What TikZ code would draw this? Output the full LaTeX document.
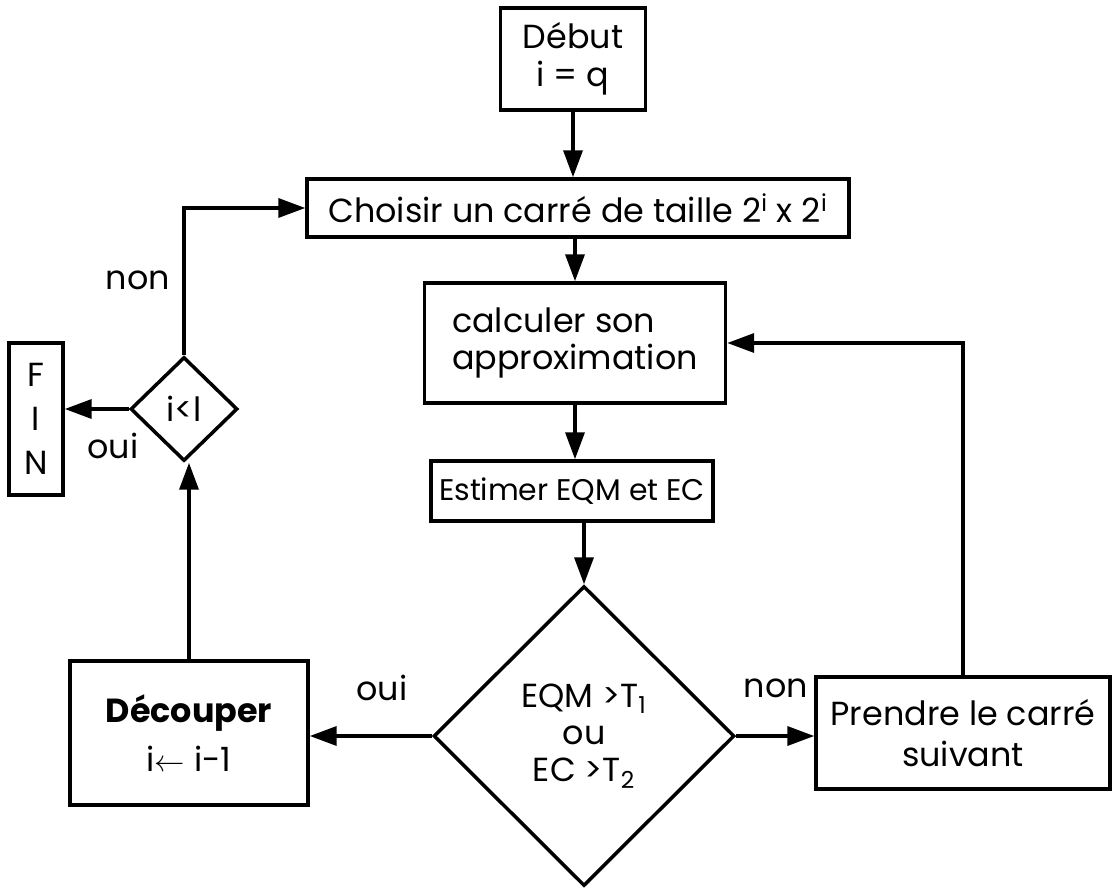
\documentclass[tikz,border=0pt]{standalone}
\usepackage{fontspec}
\setmainfont{Poppins}
\usetikzlibrary{arrows.meta,shapes.geometric}
\tikzset{
  >={Triangle[length=5.4mm,width=3.8mm]},
  box/.style={draw,line width=2pt,inner sep=0pt,align=center,
    font=\fontsize{19}{21.5}\selectfont},
  test/.style={diamond,draw,line width=2pt,inner sep=0pt,align=center,
    font=\fontsize{19}{21}\selectfont},
  flow/.style={->,line width=2pt},
  tag/.style={font=\fontsize{19}{22}\selectfont},
}
\begin{document}
\begin{tikzpicture}[x=0.02cm,y=-0.02cm]
  \useasboundingbox (0,0) rectangle (1114,891);
  % main column
  \node[box,minimum width=2.9cm,minimum height=2.04cm] (deb) at (573,59) {Début\\i = q};
  \node[box,minimum width=10.84cm,minimum height=1.16cm] (choix) at (578,208)
    {Choisir un carré de taille 2\textsuperscript{i} x 2\textsuperscript{i}};
  \node[box,align=left,minimum width=6.02cm,minimum height=2.4cm] (calc) at (575,343)
    {calculer son\\approximation};
  \node[box,minimum width=5.64cm,minimum height=1.2cm,
    font=\fontsize{17}{20}\selectfont] (est) at (572,491) {Estimer EQM et EC};
  \node[test,minimum width=6.02cm,minimum height=6cm] (cond) at (584,736)
    {EQM >T\textsubscript{1}\\ou\\EC >T\textsubscript{2}};
  % branches
  \node[box,minimum width=4.76cm,minimum height=2.88cm] (dec) at (189,733)
    {\textbf{Découper}\\[6pt]i$\leftarrow$ i-1};
  \node[box,minimum width=5.88cm,minimum height=2.24cm,
    font=\fontsize{19}{23}\selectfont] (suiv) at (963,733)
    {Prendre le carré\\suivant};
  \node[test,minimum width=2.14cm,minimum height=2.08cm] (niv) at (184,409) {i<l};
  \node[box,minimum width=1.08cm,minimum height=3.04cm,
    font=\fontsize{19}{25}\selectfont] (fin) at (36,419) {F\\I\\N};
  % labels
  \node[tag] (ouiG) at (382,688) {oui};
  \node[tag] (nonD) at (776,688) {non};
  \node[tag] (nonH) at (138,280) {non};
  \node[tag] (ouiF) at (113,446) {oui};
  % connectors
  \draw[flow] (deb.south) -- (deb.south |- choix.north);
  \draw[flow] (calc.north |- choix.south) -- (calc.north);
  \draw[flow] (calc.south) -- (calc.south |- est.north);
  \draw[flow] (est.south -| cond.north) -- (cond.north);
  \draw[flow] (cond.west) -- (cond.west -| dec.east);
  \draw[flow] (cond.east) -- (cond.east -| suiv.west);
  \draw[flow] (suiv.north) |- (calc.east);
  \draw[flow] (dec.north) -- (dec.north |- niv.south);
  \draw[flow] (niv.north) |- (choix.west);
  \draw[flow] (niv.west) -- (niv.west -| fin.east);
\end{tikzpicture}
\end{document}
